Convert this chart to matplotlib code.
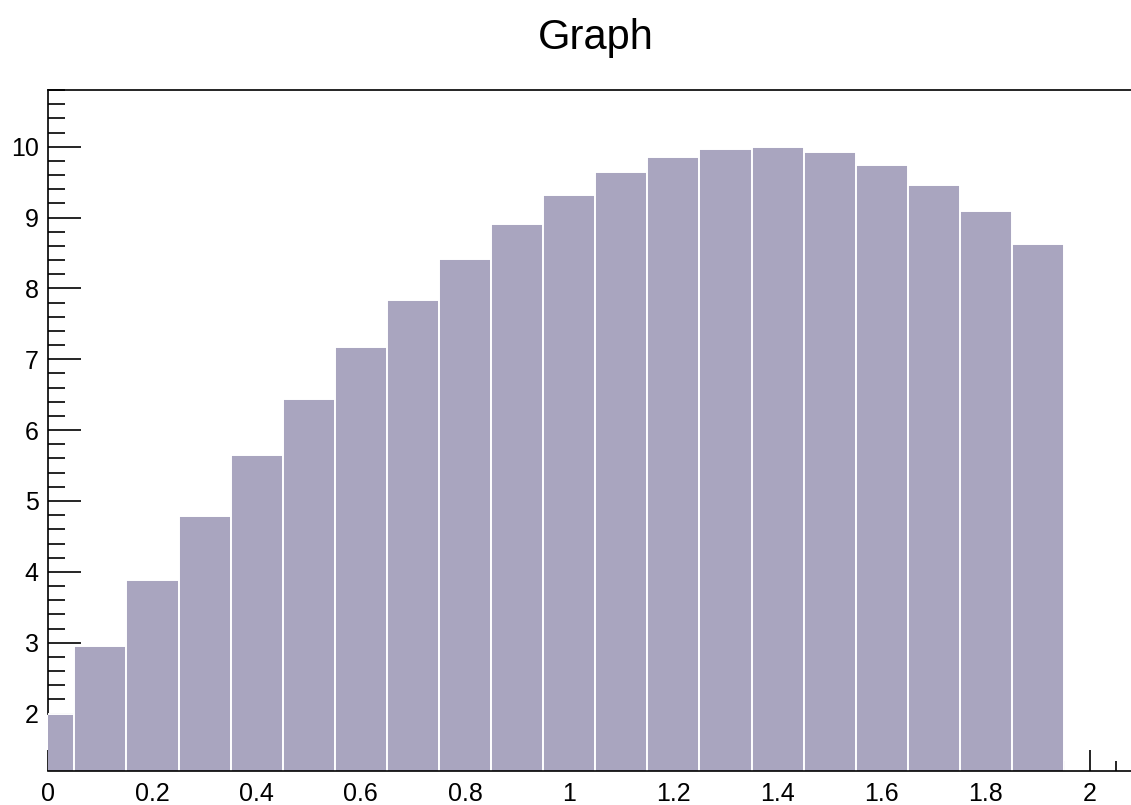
import matplotlib
matplotlib.use("Agg")
import matplotlib.pyplot as plt
from matplotlib.ticker import MultipleLocator

# ---- data ----
x_values = [0.0, 0.1, 0.2, 0.3, 0.4, 0.5, 0.6, 0.7, 0.8, 0.9,
            1.0, 1.1, 1.2, 1.3, 1.4, 1.5, 1.6, 1.7, 1.8, 1.9]
y_values = [1.99, 2.96, 3.89, 4.79, 5.65, 6.44, 7.17, 7.83, 8.41, 8.91,
            9.32, 9.64, 9.85, 9.97, 10.00, 9.92, 9.74, 9.46, 9.09, 8.63]
x_tick_labels = ["0", "0.2", "0.4", "0.6", "0.8", "1", "1.2", "1.4", "1.6", "1.8", "2"]
y_tick_labels = ["2", "3", "4", "5", "6", "7", "8", "9", "10"]
title = "Graph"

plt.rcParams['font.family'] = ['Liberation Sans', 'DejaVu Sans']

W, H = 1131, 805
fig = plt.figure(figsize=(W / 100, H / 100), dpi=100)
left_px, right_px, top_px, bottom_px = 48.3, 1137.0, 90.0, 771.0
ax = fig.add_axes([left_px / W, 1 - bottom_px / H,
                   (right_px - left_px) / W, (bottom_px - top_px) / H])

ax.bar(x_values, y_values, width=0.1, align='center',
       color='#a9a5bf', edgecolor='white', linewidth=1.4, zorder=1)

ymin_d, ymax_d = min(y_values), max(y_values)
dy = ymax_d - ymin_d
y_lo, y_hi = ymin_d - 0.1 * dy, ymax_d + 0.1 * dy
ax.set_xlim(0, 2.09)
ax.set_ylim(y_lo, y_hi)

ax.set_axisbelow(True)
ax.spines['right'].set_visible(False)
for s in ax.spines.values():
    s.set_linewidth(1.2)
    s.set_color('black')
ax.spines['left'].set_zorder(0.6)
# the first bar hides the lower part of the y axis line
ax.spines['left'].set_bounds(y_values[0], y_hi)
ax.spines['bottom'].set_zorder(3)
ax.spines['top'].set_zorder(3)

ax.set_xticks([float(t) for t in x_tick_labels])
ax.set_xticklabels(x_tick_labels)
ax.xaxis.set_minor_locator(MultipleLocator(0.05))
ax.set_yticks([float(t) for t in y_tick_labels])
ax.set_yticklabels(y_tick_labels)
ax.yaxis.set_minor_locator(MultipleLocator(0.2))

ax.tick_params(axis='x', which='major', direction='in', length=15, width=1.2,
               labelsize=18, pad=8, top=False)
ax.tick_params(axis='x', which='minor', direction='in', length=7, width=1.2, top=False)
ax.tick_params(axis='y', which='major', direction='in', length=24, width=1.2,
               labelsize=18, pad=7, right=False)
ax.tick_params(axis='y', which='minor', direction='in', length=12, width=1.2, right=False)

fig.text(595.5 / W, 1 - 49.3 / H, title, ha='center', va='baseline', fontsize=30)

fig.savefig("out.png", dpi=100)
